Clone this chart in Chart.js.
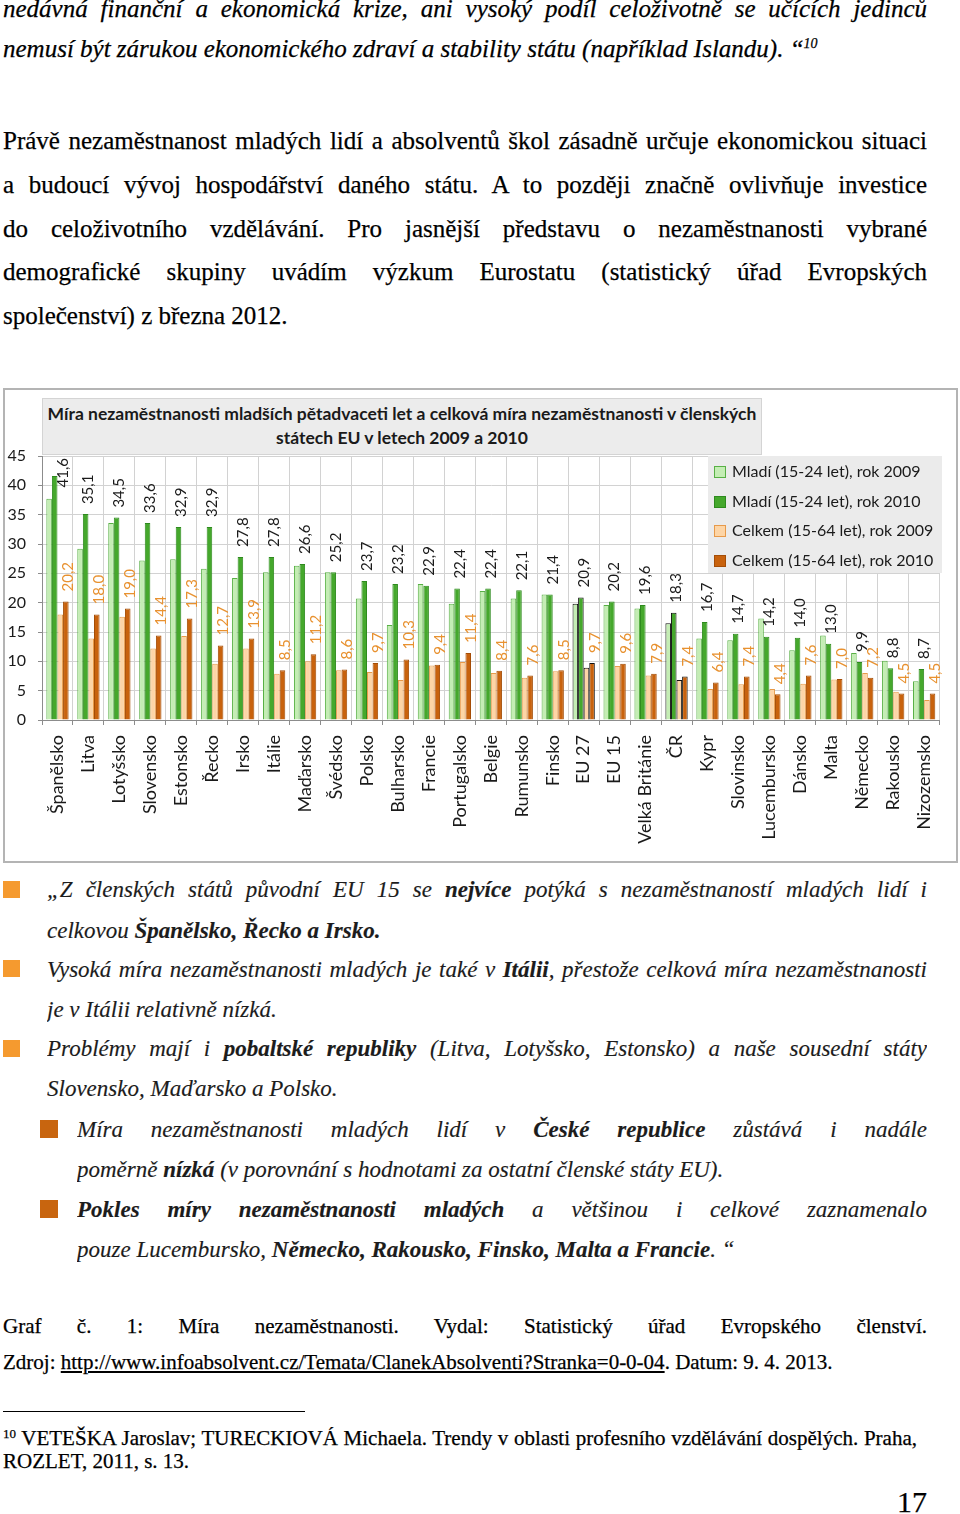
<!DOCTYPE html>
<html lang="cs">
<head>
<meta charset="utf-8">
<script src="https://cdn.jsdelivr.net/npm/chart.js@4.4.1/dist/chart.umd.min.js"></script>
<style>
  html, body { margin: 0; padding: 0; background: #fff; }
  #page { position: relative; width: 960px; height: 1514px; overflow: hidden; color: #000; }
  .ln { position: absolute; font-family: "Liberation Serif", "Times New Roman", serif; font-size: 25px; line-height: 40px; height: 40px; overflow: hidden; -webkit-text-stroke: 0.25px #000; }
  .j { text-align: justify; text-align-last: justify; }
  .i { font-style: italic; }
  .b23 { font-size: 23px; color: #1c1c1c; -webkit-text-stroke: 0.15px #1c1c1c; }
  .sq { position: absolute; width: 17px; height: 17px; background: #f59a2f; }
  .sq2 { position: absolute; width: 18px; height: 18px; background: #c8650f; }
  .cap { font-size: 21px; line-height: 36px; height: 36px; }
  .fn { font-size: 21px; line-height: 24px; height: 24px; }
  .up { position: relative; top: -9px; font-size: 14px; }
  #chartBox { position: absolute; left: 3px; top: 388px; width: 951px; height: 471px; border: 2px solid #b4b4b4; }
  #chartTitle { position: absolute; left: 42px; top: 398px; width: 718px; height: 52px; background: #ececec; border: 1px solid #d4d4d4;
    font: bold 17.5px Lato, sans-serif; color: #1a1a1a; text-align: center; line-height: 24px; padding-top: 3px; white-space: nowrap; }
  #legend { position: absolute; left: 708px; top: 456px; width: 234px; height: 117px; background: #ebebeb; font: 16px Lato, sans-serif; color: #1a1a1a; }
  #legend div { position: absolute; left: 6px; height: 29px; line-height: 29px; white-space: nowrap; }
  #legend span.m { display: inline-block; width: 10px; height: 10px; border: 1px solid; margin-right: 6px; vertical-align: -1px; }
</style>
</head>
<body>
<div id="page">
  <div class="ln i j" style="left:3px; top:-11px; width:924px;">nedávná finanční a ekonomická krize, ani vysoký podíl celoživotně se učících jedinců</div>
  <div class="ln i" style="left:3px; top:29px; width:924px;">nemusí být zárukou ekonomického zdraví a stability státu (například Islandu). “<span class="up">10</span></div>

  <div class="ln j" style="left:3px; top:121px; width:924px;">Právě nezaměstnanost mladých lidí a absolventů škol zásadně určuje ekonomickou situaci</div>
  <div class="ln j" style="left:3px; top:165px; width:924px;">a budoucí vývoj hospodářství daného státu. A to později značně ovlivňuje investice</div>
  <div class="ln j" style="left:3px; top:209px; width:924px;">do celoživotního vzdělávání. Pro jasnější představu o nezaměstnanosti vybrané</div>
  <div class="ln j" style="left:3px; top:252px; width:924px;">demografické skupiny uvádím výzkum Eurostatu (statistický úřad Evropských</div>
  <div class="ln" style="left:3px; top:296px; width:924px;">společenství) z března 2012.</div>

  <div id="chartBox"><canvas id="myChart" width="951" height="471"></canvas></div>
  <div id="chartTitle">Míra nezaměstnanosti mladších pětadvaceti let a celková míra nezaměstnanosti v členských<br>státech EU v letech 2009 a 2010</div>
  <div id="legend"></div>

  <div class="sq" style="left:3px; top:881px;"></div>
  <div class="ln i j b23" style="left:47px; top:870px; width:880px;">„Z členských států původní EU 15 se <b>nejvíce</b> potýká s nezaměstnaností mladých lidí i</div>
  <div class="ln i b23" style="left:47px; top:911px; width:880px;">celkovou <b>Španělsko, Řecko a Irsko.</b></div>
  <div class="sq" style="left:3px; top:960px;"></div>
  <div class="ln i j b23" style="left:47px; top:950px; width:880px;">Vysoká míra nezaměstnanosti mladých je také v <b>Itálii</b>, přestože celková míra nezaměstnanosti</div>
  <div class="ln i b23" style="left:47px; top:990px; width:880px;">je v Itálii relativně nízká.</div>
  <div class="sq" style="left:3px; top:1040px;"></div>
  <div class="ln i j b23" style="left:47px; top:1029px; width:880px;">Problémy mají i <b>pobaltské republiky</b> (Litva, Lotyšsko, Estonsko) a naše sousední státy</div>
  <div class="ln i b23" style="left:47px; top:1069px; width:880px;">Slovensko, Maďarsko a Polsko.</div>
  <div class="sq2" style="left:40px; top:1120px;"></div>
  <div class="ln i j b23" style="left:77px; top:1110px; width:850px;">Míra nezaměstnanosti mladých lidí v <b>České republice</b> zůstává i nadále</div>
  <div class="ln i b23" style="left:77px; top:1150px; width:850px;">poměrně <b>nízká</b> (v porovnání s hodnotami za ostatní členské státy EU).</div>
  <div class="sq2" style="left:40px; top:1200px;"></div>
  <div class="ln i j b23" style="left:77px; top:1190px; width:850px;"><b>Pokles míry nezaměstnanosti mladých</b> a většinou i celkové zaznamenalo</div>
  <div class="ln i b23" style="left:77px; top:1230px; width:850px;">pouze Lucembursko, <b>Německo, Rakousko, Finsko, Malta a Francie</b>. “</div>

  <div class="ln cap j" style="left:3px; top:1308px; width:924px;">Graf č. 1: Míra nezaměstnanosti. Vydal: Statistický úřad Evropského členství.</div>
  <div class="ln cap" style="left:3px; top:1344px; width:924px;">Zdroj: <u>http://www.infoabsolvent.cz/Temata/ClanekAbsolventi?Stranka=0-0-04</u>. Datum: 9. 4. 2013.</div>

  <div style="position:absolute; left:3px; top:1411px; width:302px; height:1px; background:#000;"></div>
  <div class="ln fn j" style="left:3px; top:1426px; width:914px;"><span class="up" style="top:-7px; font-size:13px;">10</span> VETEŠKA Jaroslav; TURECKIOVÁ Michaela. Trendy v oblasti profesního vzdělávání dospělých. Praha,</div>
  <div class="ln fn" style="left:3px; top:1449px; width:914px;">ROZLET, 2011, s. 13.</div>

  <div class="ln" style="left:827px; top:1487px; width:100px; font-size:30px; line-height:30px; height:30px; text-align:right;">17</div>
</div>

<script>
// Kategorie (státy) a hodnoty nezaměstnanosti v %
const staty = ['Španělsko', 'Litva', 'Lotyšsko', 'Slovensko', 'Estonsko', 'Řecko', 'Irsko', 'Itálie',
  'Maďarsko', 'Švédsko', 'Polsko', 'Bulharsko', 'Francie', 'Portugalsko', 'Belgie', 'Rumunsko', 'Finsko',
  'EU 27', 'EU 15', 'Velká Británie', 'ČR', 'Kypr', 'Slovinsko', 'Lucembursko', 'Dánsko', 'Malta',
  'Německo', 'Rakousko', 'Nizozemsko'];

const mladi2009 = [37.7, 29.2, 33.6, 27.2, 27.4, 25.8, 24.2, 25.2, 26.3, 25.2, 20.7, 16.2, 23.2, 19.8, 22.0,
  20.7, 21.4, 19.8, 19.6, 19.0, 16.5, 13.9, 13.6, 17.3, 11.9, 14.4, 11.4, 10.1, 6.6];
const mladi2010 = [41.6, 35.1, 34.5, 33.6, 32.9, 32.9, 27.8, 27.8, 26.6, 25.2, 23.7, 23.2, 22.9, 22.4, 22.4,
  22.1, 21.4, 20.9, 20.2, 19.6, 18.3, 16.7, 14.7, 14.2, 14.0, 13.0, 9.9, 8.8, 8.7];
const celkem2009 = [18.0, 13.9, 17.6, 12.2, 14.3, 9.6, 12.2, 7.9, 10.0, 8.5, 8.2, 6.8, 9.3, 9.9, 8.0,
  7.2, 8.3, 8.9, 9.2, 7.6, 6.8, 5.3, 6.1, 5.3, 6.2, 6.9, 8.0, 4.8, 3.4];
const celkem2010 = [20.2, 18.0, 19.0, 14.4, 17.3, 12.7, 13.9, 8.5, 11.2, 8.6, 9.7, 10.3, 9.4, 11.4, 8.4,
  7.6, 8.5, 9.7, 9.6, 7.9, 7.4, 6.4, 7.4, 4.4, 7.6, 7.0, 7.2, 4.5, 4.5];

const nazvyRad = ['Mladí (15-24 let), rok 2009', 'Mladí (15-24 let), rok 2010',
  'Celkem (15-64 let), rok 2009', 'Celkem (15-64 let), rok 2010'];
const barvy = ['#c4edb4', '#45a82c', '#fdd5a6', '#c8620d'];
const okraje = ['#58b045', '#2e8a1e', '#e79a4a', '#a44d06'];
const zvyraznene = ['EU 27', 'ČR'];

// Legenda
var legend = document.getElementById('legend');
nazvyRad.forEach(function(nazev, i) {
  var d = document.createElement('div');
  d.style.top = (i * 29.5) + 'px';
  d.innerHTML = '<span class="m" style="background:' + barvy[i] + ';border-color:' + okraje[i] + '"></span>' + nazev;
  legend.appendChild(d);
});

// Popisky hodnot nad sloupci (svisle)
const popisky = {
  id: 'popisky',
  afterDatasetsDraw(chart) {
    const ctx = chart.ctx;
    const top = chart.chartArea.top;
    ctx.save();
    ctx.font = '15px Lato';
    [[1, '#1a1a1a'], [3, '#e8912f']].forEach(function(p) {
      const meta = chart.getDatasetMeta(p[0]);
      const values = chart.data.datasets[p[0]].data;
      meta.data.forEach(function(bar, i) {
        const text = values[i].toFixed(1).replace('.', ',');
        const w = ctx.measureText(text).width;
        let x = bar.x + bar.width / 2;
        let start = bar.y - 10;
        if (start - w < top + 2) { start = top + 2 + w; x += 6; }
        ctx.save();
        ctx.translate(x, start);
        ctx.rotate(-Math.PI / 2);
        ctx.fillStyle = p[1];
        ctx.textAlign = 'left';
        ctx.textBaseline = 'middle';
        ctx.fillText(text, 0, 0);
        ctx.restore();
      });
    });
    ctx.restore();
  }
};

function okraj(i) {
  return function(c) { return zvyraznene.indexOf(staty[c.dataIndex]) >= 0 ? '#111111' : okraje[i]; };
}

var ctx = document.getElementById('myChart').getContext('2d');
var myChart = new Chart(ctx, {
  type: 'bar',
  data: {
    labels: staty,
    datasets: [mladi2009, mladi2010, celkem2009, celkem2010].map(function(d, i) {
      return {
        label: nazvyRad[i],
        data: d,
        backgroundColor: barvy[i],
        borderColor: okraj(i),
        borderWidth: 1,
        categoryPercentage: 0.72,
        barPercentage: 1.0
      };
    })
  },
  options: {
    responsive: false,
    animation: false,
    layout: { padding: { top: 66, right: 14, left: 0, bottom: 0 } },
    plugins: { legend: { display: false }, tooltip: { enabled: false } },
    scales: {
      x: {
        afterFit: function(s) { s.height = 141; },
        border: { color: '#8c8c8c' },
        grid: { color: '#d2d2d2', tickColor: '#8c8c8c', tickLength: 5 },
        ticks: { autoSkip: false, minRotation: 90, maxRotation: 90, padding: 10, color: '#1a1a1a',
          font: { family: 'Lato', size: 18 } }
      },
      y: {
        min: 0, max: 45,
        afterFit: function(s) { s.width = 37; },
        border: { color: '#8c8c8c' },
        grid: { color: '#d2d2d2', tickColor: '#8c8c8c', tickLength: 4 },
        ticks: { stepSize: 5, padding: 12, color: '#1a1a1a', font: { family: 'Lato', size: 16 } }
      }
    }
  },
  plugins: [popisky]
});
</script>
</body>
</html>
